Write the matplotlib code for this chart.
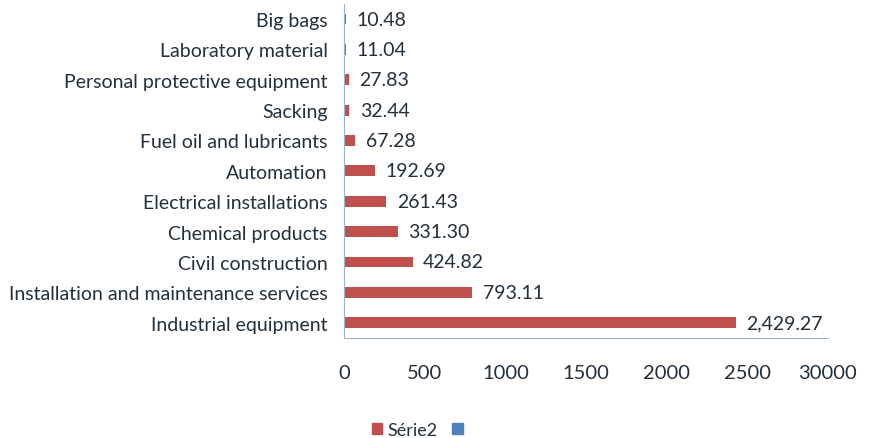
import matplotlib.pyplot as plt
from matplotlib.patches import Patch

categories = ['Industrial equipment', 'Installation and maintenance services',
              'Civil construction', 'Chemical products', 'Electrical installations',
              'Automation', 'Fuel oil and lubricants', 'Sacking',
              'Personal protective equipment', 'Laboratory material', 'Big bags']
values = [2429.27, 793.11, 424.82, 331.30, 261.43, 192.69, 67.28, 32.44, 27.83, 11.04, 10.48]
value_labels = ['2,429.27', '793.11', '424.82', '331.30', '261.43', '192.69',
                '67.28', '32.44', '27.83', '11.04', '10.48']
xticks = [0, 500, 1000, 1500, 2000, 2500, 3000]
xtick_labels = ['0', '500', '1000', '1500', '2000', '2500', '30000']

red = '#C0504D'
blue = '#4F81BD'
txt = '#22303c'
plt.rcParams['font.family'] = ['Lato', 'DejaVu Sans']

fig = plt.figure(figsize=(8.94, 4.39), dpi=100)
ax = fig.add_axes([0.385, 0.228, 0.541, 0.761])

y = range(len(categories))
ax.barh(y, values, height=0.36, color=red)
for i, (v, lab) in enumerate(zip(values, value_labels)):
    ax.text(v + 65, i, lab, va='center', ha='left', fontsize=14, color=txt)

ax.set_ylim(-0.5, len(categories) - 0.5)
ax.set_xlim(0, 3000)
ax.set_yticks(list(y))
ax.set_yticklabels(categories, fontsize=14, color=txt)
ax.set_xticks(xticks)
ax.set_xticklabels(xtick_labels, fontsize=14.5, color=txt)
ax.tick_params(axis='both', length=0)
ax.tick_params(axis='y', pad=12)
ax.tick_params(axis='x', pad=19)
for s in ['top', 'right']:
    ax.spines[s].set_visible(False)
ax.spines['left'].set_color('#9fb4c8')
ax.spines['bottom'].set_color('#9fb4c8')

handles = [Patch(color=red, label='Série2'), Patch(color=blue, label='')]
fig.legend(handles=handles, loc='center', bbox_to_anchor=(0.47, 0.018), ncol=2,
           frameon=False, fontsize=13, handlelength=0.6, handleheight=0.6,
           handletextpad=0.3, columnspacing=0.8, labelcolor=txt)

fig.savefig('out.png', dpi=100)
